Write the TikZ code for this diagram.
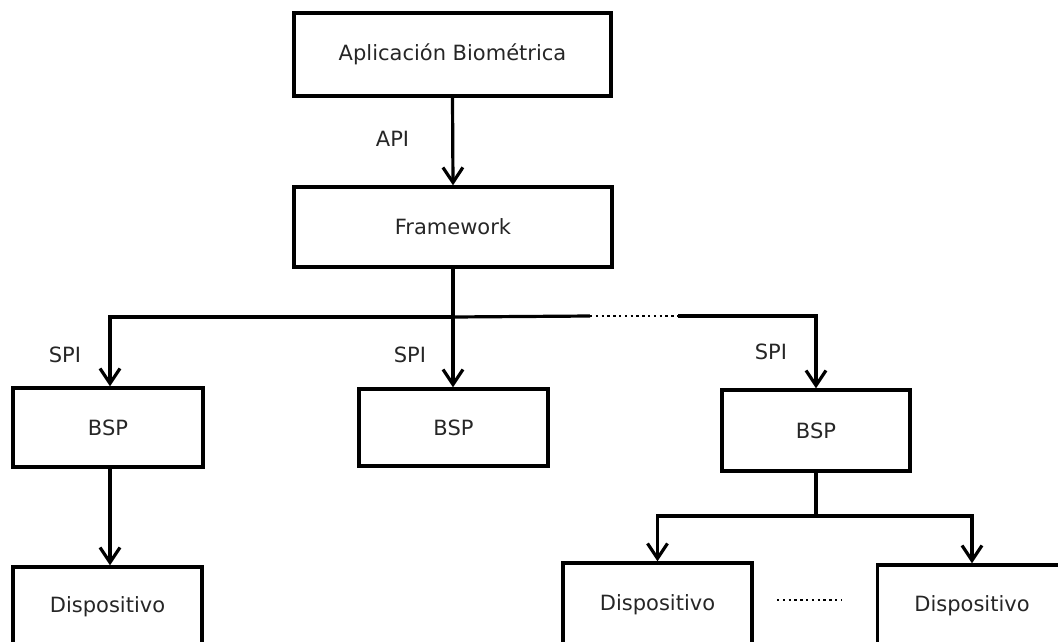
\documentclass[tikz,border=0pt]{standalone}
\usepackage{fontspec}
\setmainfont{DejaVu Sans}
\usetikzlibrary{arrows.meta}
\begin{document}
\begin{tikzpicture}[x=1pt,y=-1pt,
  font=\fontsize{21}{25}\selectfont,
  box/.style={draw=black, line width=3.4pt, fill=none, inner sep=0pt, text=black!85},
  link/.style={line width=3.2pt, line cap=butt, line join=miter},
  arr/.style={link, -{Straight Barb[length=15pt,width=20pt]}},
  dots/.style={line width=2.6pt, dash pattern=on 2.4pt off 3.4pt},
  lbl/.style={inner sep=0pt, text=black!85}]
\useasboundingbox (0,0) rectangle (1058,641);
\clip (0,0) rectangle (1058,641);

% boxes
\node[box, minimum width=317pt, minimum height=83pt] (app) at (452.5,54.5) {Aplicación Biométrica};
\node[box, minimum width=318pt, minimum height=80pt] (fw) at (453,227) {Framework};
\node[box, minimum width=190pt, minimum height=79pt] (bspa) at (108,427.5) {BSP};
\node[box, minimum width=189pt, minimum height=77pt] (bspb) at (453.5,427.5) {BSP};
\node[box, minimum width=188pt, minimum height=81pt] (bspc) at (816,430.5) {BSP};
\node[box, minimum width=189pt, minimum height=80pt] (deva) at (107.5,607) {Dispositivo};
\node[box, minimum width=189pt, minimum height=84pt] (devb) at (657.5,605) {Dispositivo};
\node[box, minimum width=189pt, minimum height=82pt] (devc) at (972,606) {Dispositivo};

% junction points of the bus lines
\coordinate (bus) at (453,317);
\coordinate (busl) at (110,317);
\coordinate (gapa) at (590,316);
\coordinate (gapb) at (678,316);
\coordinate (busr) at (816,316);
\coordinate (sub) at (816,516);
\coordinate (subl) at (657.5,516);
\coordinate (subr) at (972,516);
\coordinate (dota) at (777,600);
\coordinate (dotb) at (841,600);

% connectors
\draw[arr] (app.south) -- (fw.north);
\draw[link] (fw.south) -- (bus);
\draw[arr] (bus) -- (busl) -- (busl |- bspa.north);
\draw[arr] (bus) -- (bus |- bspb.north);
\draw[link] (bus) -- (gapa);
\draw[dots] (gapa) -- (gapb);
\draw[arr] (gapb) -- (busr) -- (bspc.north);
\draw[arr] (bspa.south -| busl) -- (busl |- deva.north);
\draw[link] (bspc.south) -- (sub);
\draw[arr] (sub) -- (subl) -- (devb.north);
\draw[arr] (sub) -- (subr) -- (devc.north);
\draw[dots] (dota) -- (dotb);

% interface labels
\node[lbl] (api) at (392.5,139) {API};
\node[lbl] (spia) at (65,355) {SPI};
\node[lbl] (spib) at (410,355) {SPI};
\node[lbl] (spic) at (771,352) {SPI};
\end{tikzpicture}
\end{document}
